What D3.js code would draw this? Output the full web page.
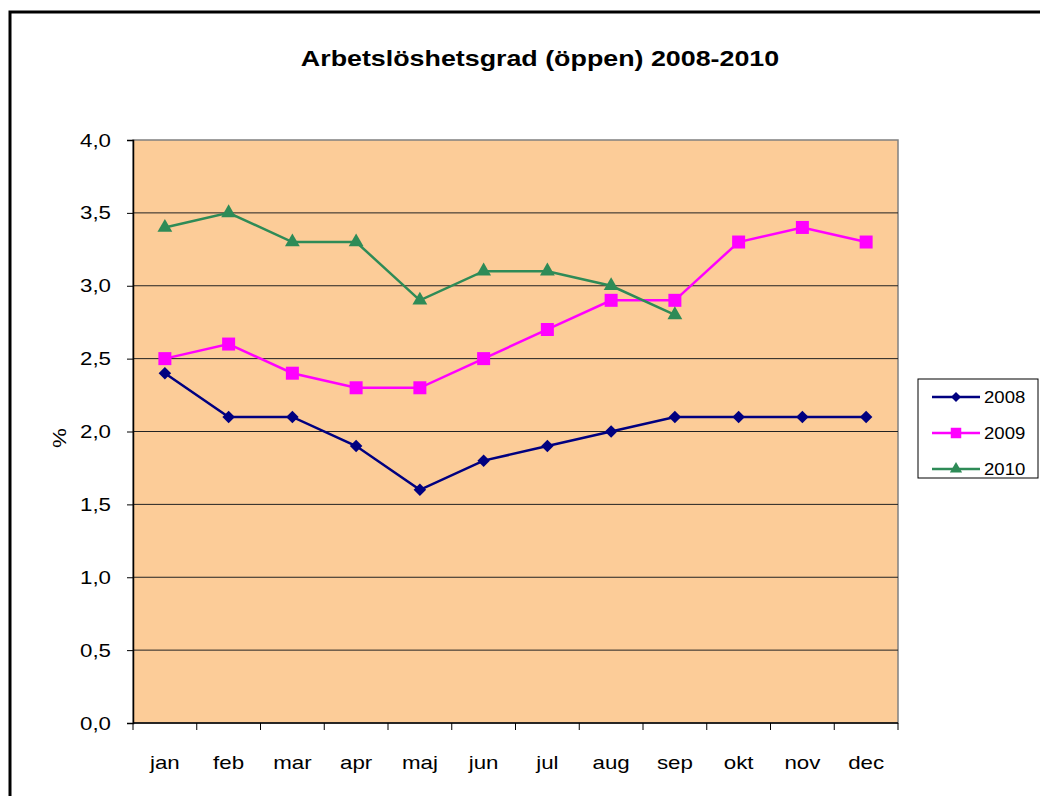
<!DOCTYPE html>
<html><head><meta charset="utf-8">
<script src="https://cdn.jsdelivr.net/npm/d3@7/dist/d3.min.js"></script>
<style>body{margin:0;background:#fff}svg{display:block;font-family:"Liberation Sans",Arial,sans-serif}</style>
</head><body><svg id="c" width="1040" height="796"></svg>
<script>
const months = ["jan","feb","mar","apr","maj","jun","jul","aug","sep","okt","nov","dec"];
const s2008 = [2.4,2.1,2.1,1.9,1.6,1.8,1.9,2.0,2.1,2.1,2.1,2.1];
const s2009 = [2.5,2.6,2.4,2.3,2.3,2.5,2.7,2.9,2.9,3.3,3.4,3.3];
const s2010 = [3.4,3.5,3.3,3.3,2.9,3.1,3.1,3.0,2.8];
const yTicks = [0,0.5,1,1.5,2,2.5,3,3.5,4];
const seriesNames = ["2008","2009","2010"];
const title = "Arbetslöshetsgrad (öppen) 2008-2010";

const svg = d3.select("#c");
svg.append("rect").attr("x",10).attr("y",12).attr("width",1040).attr("height",800)
  .attr("fill","none").attr("stroke","#000").attr("stroke-width",3);

const SX = 1.24;
function txt(parent,x,y,s,size,anchor,opts={}){
  const g = parent.append("g").attr("transform",`translate(${x},${y})${opts.rot?` rotate(${opts.rot})`:""} scale(${opts.sx||SX},1)`);
  return g.append("text").attr("x",0).attr("y",0).attr("text-anchor",anchor)
    .attr("font-size",size).attr("font-weight",opts.bold?"bold":"normal").attr("fill","#000").text(s);
}

const L=133,R=898,T=140,B=723;
const x = d3.scaleBand().domain(months).range([L,R]);
const y = d3.scaleLinear().domain([0,4]).range([B,T]);

svg.append("rect").attr("x",L).attr("y",T).attr("width",R-L).attr("height",B-T)
  .attr("fill","#FCCC98").attr("stroke","#808080").attr("stroke-width",1.5);

svg.append("g").selectAll("line").data(yTicks.filter(d=>d>0&&d<4)).join("line")
  .attr("x1",L).attr("x2",R).attr("y1",d=>y(d)).attr("y2",d=>y(d))
  .attr("stroke","#222").attr("stroke-width",1);

const fmt = d=>d.toFixed(1).replace(".",",");
const ya = svg.append("g").attr("transform",`translate(${L},0)`)
  .call(d3.axisLeft(y).tickValues(yTicks).tickFormat("").tickSize(6));
ya.select(".domain").attr("stroke","#000").attr("stroke-width",1.5);
ya.selectAll("line").attr("stroke","#000");
const ylab = svg.append("g");
yTicks.forEach(v=>txt(ylab,111,y(v)+6.5,fmt(v),18,"end"));

const xa = svg.append("g").attr("transform",`translate(0,${B})`);
xa.append("line").attr("x1",L).attr("x2",R).attr("y1",0).attr("y2",0).attr("stroke","#000").attr("stroke-width",1.5);
const edges = months.map(m=>x(m)).concat([R]);
xa.selectAll("line.t").data(edges).join("line").attr("class","t")
  .attr("x1",d=>d).attr("x2",d=>d).attr("y1",0).attr("y2",7).attr("stroke","#000");
const xlab = svg.append("g");
months.forEach(m=>txt(xlab,x(m)+x.bandwidth()/2,769,m,18,"middle"));

txt(svg,540,66,title,22,"middle",{bold:true,sx:1.22});
txt(svg,66,438,"%",18,"middle",{rot:-90});

const cols = ["#000080","#FF00FF","#2E8B57"];
const data = [s2008,s2009,s2010];
const cx = (i)=>x(months[i])+x.bandwidth()/2;
const line = d3.line().x((d,i)=>cx(i)).y(d=>y(d));
const symT = [d3.symbolSquare, d3.symbolSquare, d3.symbolTriangle];
const sz = [78,169,95];
const extra = [" rotate(45)","",""];
data.forEach((s,k)=>{
  svg.append("path").datum(s).attr("d",line).attr("fill","none").attr("stroke",cols[k]).attr("stroke-width",2.5);
  svg.append("g").selectAll("path").data(s).join("path")
    .attr("d",d3.symbol(symT[k],sz[k])())
    .attr("fill",cols[k])
    .attr("transform",(d,i)=>`translate(${cx(i)},${y(d)})`+extra[k]);
});

const lg = svg.append("g");
lg.append("rect").attr("x",918).attr("y",379).attr("width",120).attr("height",99)
  .attr("fill","#fff").attr("stroke","#000").attr("stroke-width",1);
const ly=[397,433,469];
const lsz=[50,110,65];
seriesNames.forEach((n,k)=>{
  lg.append("line").attr("x1",932).attr("x2",980).attr("y1",ly[k]).attr("y2",ly[k]).attr("stroke",cols[k]).attr("stroke-width",2.5);
  lg.append("path").attr("d",d3.symbol(symT[k],lsz[k])())
    .attr("transform",`translate(956,${ly[k]})`+extra[k]).attr("fill",cols[k]);
  txt(lg,984,ly[k]+6,n,16,"start",{sx:1.16});
});
</script></body></html>
